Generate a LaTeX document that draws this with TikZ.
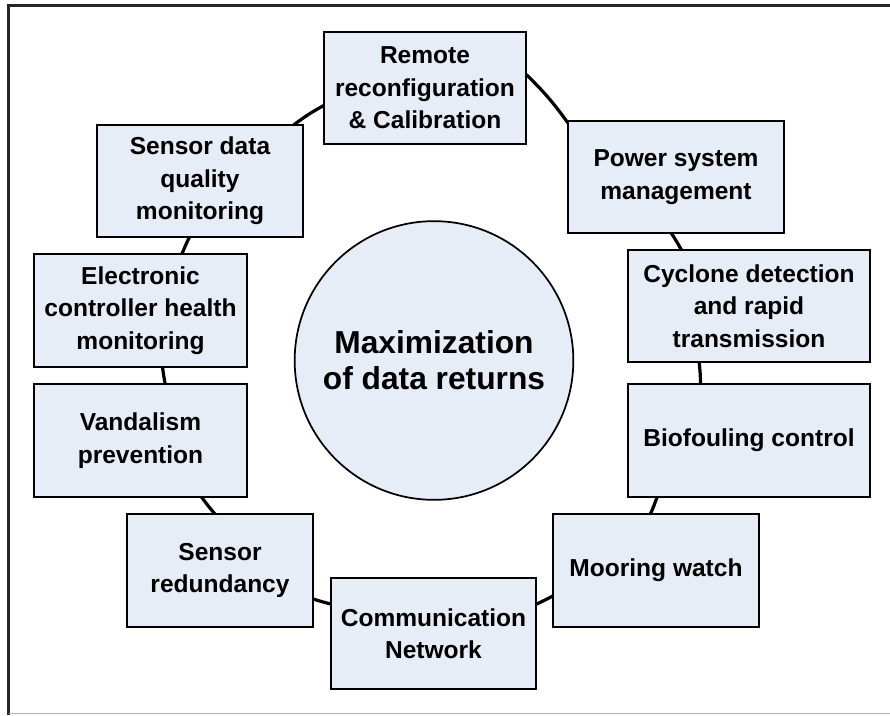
\documentclass[tikz,border=0pt]{standalone}
\usepackage{fontspec}
\setmainfont{Liberation Sans}
\usetikzlibrary{backgrounds}
\definecolor{fondbleu}{RGB}{230,237,247}

\begin{document}
\begin{tikzpicture}[x=0.75pt,y=-0.75pt,
  boite/.style={draw,line width=1.8pt,fill=fondbleu,align=center,inner sep=2pt,minimum height=84pt,font=\fontsize{18.4}{24.4}\selectfont\bfseries},
  anneau/.style={line width=2.4pt,shorten <=-1.5pt,shorten >=-1.5pt}]

\useasboundingbox (0,0) rectangle (890,715);

%cadre
\draw[line width=1.6pt,black!85] (8.5,715) -- (8.5,5.5) -- (890,5.5);
\draw[gray!60] (8.5,713) -- (890,713);

%cercle central
\node[circle,draw,line width=1.3pt,fill=fondbleu,minimum size=209pt,align=center,font=\fontsize{23.8}{27}\selectfont\bfseries] (centre) at (434,360.5) {Maximization\\of data returns};

%les boites, dans le sens des aiguilles d'une montre
\node[boite,minimum width=151.5pt] (remote) at (425,88) {Remote\\reconfiguration\\\& Calibration};
\node[boite,minimum width=162pt] (power) at (676,177) {Power system\\management};
\node[boite,minimum width=181.5pt] (cyclone) at (749,306) {Cyclone detection\\and rapid\\transmission};
\node[boite,minimum width=181.5pt,minimum height=84.75pt] (bio) at (749,440.5) {Biofouling control};
\node[boite,minimum width=154.5pt,minimum height=84.75pt] (mooring) at (656,570.5) {Mooring watch};
\node[boite,minimum width=153.75pt,minimum height=83.25pt] (comm) at (433.5,633.5) {Communication\\Network};
\node[boite,minimum width=139.5pt,minimum height=84.75pt] (redund) at (220,570.5) {Sensor\\redundancy};
\node[boite,minimum width=159.75pt,minimum height=84.75pt] (vandal) at (140.5,440.5) {Vandalism\\prevention};
\node[boite,minimum width=159.75pt,minimum height=84.75pt] (electr) at (140.5,310.5) {Electronic\\controller health\\monitoring};
\node[boite,minimum width=154.5pt] (sdata) at (200,181) {Sensor data\\quality\\monitoring};

%l'anneau, derrière les boites
\begin{scope}[on background layer]
\foreach \de/\angA/\vers/\angB/\courbe in {remote/7.8/power/153/4.9, power/266.8/cyclone/140.6/2, cyclone/229.9/bio/130.7/2.3, bio/212.9/mooring/95.9/2.2, mooring/194.1/comm/16/2, comm/164.7/redund/343.9/2.1, redund/96.3/vandal/317.6/2.2, vandal/67.8/electr/291.1/1.8, electr/54/sdata/259.1/2, sdata/31.7/remote/190.9/4}
  {\draw[anneau] (\de.\angA) to[bend left=\courbe] (\vers.\angB);}
\end{scope}

\end{tikzpicture}
\end{document}
